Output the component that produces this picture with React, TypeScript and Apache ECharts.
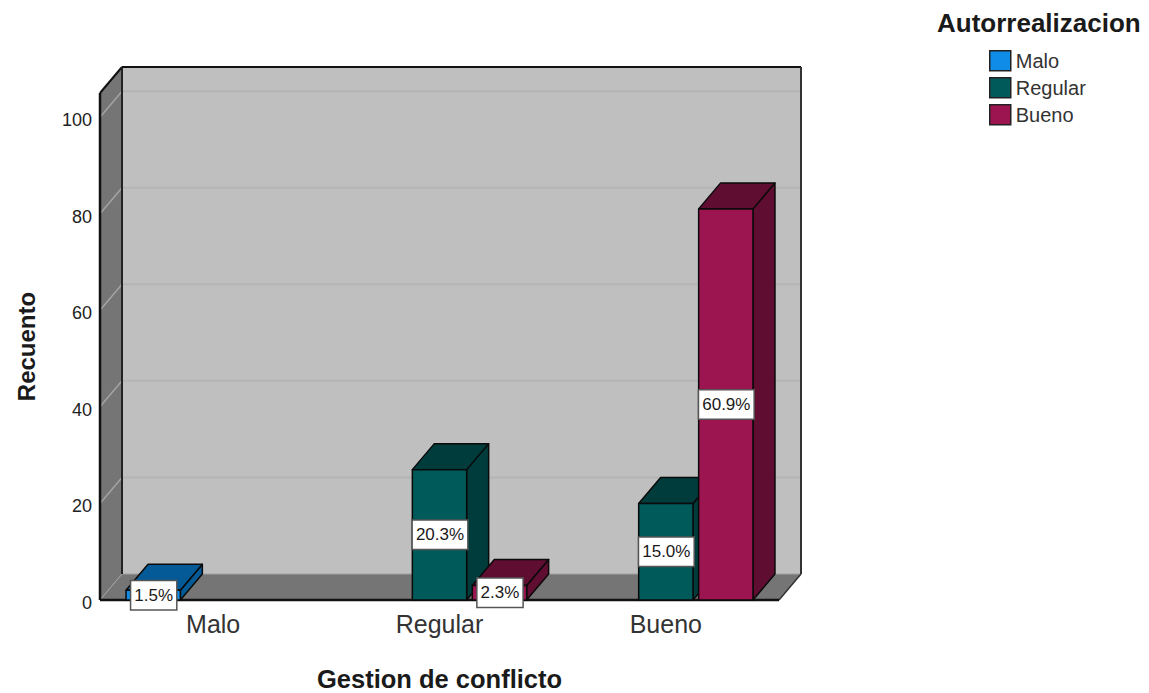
import React, { useEffect, useRef } from "react";
import * as echarts from "echarts";

const categories = ["Malo", "Regular", "Bueno"];
const seriesNames = ["Malo", "Regular", "Bueno"];
const maloValues = [2, null, null];
const regularValues = [null, 27, 20];
const buenoValues = [null, 3, 81];
const maloLabels = ["1.5%", "", ""];
const regularLabels = ["", "20.3%", "15.0%"];
const buenoLabels = ["", "2.3%", "60.9%"];
const yTicks = [0, 20, 40, 60, 80, 100];

const FONT = '"Liberation Sans", Arial, sans-serif';
const DX = 22;
const DY = -26;
const Y_MAX = 105;

const frontColors = ["#0f8ce8", "#005a5a", "#9d1550"];
const shadeColors = ["#045a96", "#003c3c", "#5f0d30"];

function renderWalls(params: any, api: any) {
  const cs = params.coordSys;
  const l = cs.x, r = cs.x + cs.width, t = cs.y, b = cs.y + cs.height;
  const wall = (pts: number[][], fill: string) => ({
    type: "polygon",
    shape: { points: pts },
    style: { fill, stroke: "none" },
  });
  const seg = (x1: number, y1: number, x2: number, y2: number, stroke: string, lineWidth: number) => ({
    type: "line",
    shape: { x1, y1, x2, y2 },
    style: { stroke, lineWidth },
  });
  const children: any[] = [
    wall([[l + DX, t + DY], [r + DX, t + DY], [r + DX, b + DY], [l + DX, b + DY]], "#bfbfbf"),
    wall([[l, t], [l + DX, t + DY], [l + DX, b + DY], [l, b]], "#757575"),
    wall([[l, b], [l + DX, b + DY], [r + DX, b + DY], [r, b]], "#757575"),
  ];
  yTicks.forEach((v) => {
    const y = api.coord([0, v])[1];
    if (v > 0) {
      children.push(seg(l + DX, y + DY, r + DX, y + DY, "#b4b4b4", 2));
      children.push(seg(l, y, l + DX, y + DY, "#a4a4a4", 1.5));
    }
  });
  children.push(seg(l, b, l + DX, b + DY, "#a4a4a4", 1));
  children.push(seg(l + DX, b + DY, r + DX, b + DY, "#a0a0a0", 1));
  children.push(seg(l, t, l, b, "#111", 2.5));
  children.push(seg(l, t, l + DX, t + DY, "#111", 2));
  children.push(seg(l + DX, t + DY, l + DX, b + DY, "#222", 2));
  children.push(seg(l + DX, t + DY, r + DX, t + DY, "#111", 2));
  children.push(seg(r + DX, t + DY, r + DX, b + DY, "#333", 2));
  children.push(seg(r + DX, b + DY, r, b, "#333", 1.5));
  children.push(seg(l, b, r, b, "#111", 2.5));
  return { type: "group", children };
}

function makeBarRenderer(seriesIndex: number, labels: string[]) {
  return (params: any, api: any) => {
    const v = api.value(1);
    if (v == null || Number.isNaN(v)) return null;
    const idx = api.value(0);
    const band = api.size([1, 0])[0];
    const w = band * 0.24;
    const c = api.coord([idx, 0]);
    const top = api.coord([idx, v])[1];
    const cx = c[0] + (seriesIndex - 1) * band * 0.265;
    const x0 = cx - w / 2, x1 = cx + w / 2, y0 = c[1];
    const edge = { stroke: "#0a0a0a", lineWidth: 1.5, lineJoin: "round" };
    const poly = (pts: number[][], fill: string) => ({
      type: "polygon",
      shape: { points: pts },
      style: { fill, ...edge },
    });
    return {
      type: "group",
      children: [
        poly([[x1, y0], [x1 + DX, y0 + DY], [x1 + DX, top + DY], [x1, top]], shadeColors[seriesIndex]),
        poly([[x0, top], [x0 + DX, top + DY], [x1 + DX, top + DY], [x1, top]], shadeColors[seriesIndex]),
        poly([[x0, y0], [x0, top], [x1, top], [x1, y0]], frontColors[seriesIndex]),
        {
          type: "text",
          x: cx + 0.5,
          y: (y0 + top) / 2,
          style: {
            text: labels[params.dataIndex],
            font: `17px ${FONT}`,
            fill: "#1a1a1a",
            align: "center",
            verticalAlign: "middle",
            backgroundColor: "#ffffff",
            borderColor: "#555",
            borderWidth: 1.5,
            padding: [6, 3, 5, 3],
          },
        },
      ],
    };
  };
}

const barSeries = (i: number, values: (number | null)[], labels: string[]) => ({
  name: seriesNames[i],
  type: "custom",
  coordinateSystem: "cartesian2d",
  renderItem: makeBarRenderer(i, labels),
  encode: { x: 0, y: 1 },
  itemStyle: { color: frontColors[i] },
  data: values.map((v, k) => [k, v]),
  z: 3 + i,
});

export default function App() {
  const ref = useRef<HTMLDivElement>(null);
  useEffect(() => {
    document.body.style.margin = "0";
    const chart = echarts.init(ref.current!, null, { renderer: "svg" });
    chart.setOption({
      animation: false,
      backgroundColor: "#ffffff",
      textStyle: { fontFamily: FONT },
      title: {
        text: "Autorrealizacion",
        left: 932,
        top: 5,
        textStyle: { fontFamily: FONT, fontSize: 26, fontWeight: "bold", color: "#1a1a1a" },
      },
      legend: {
        orient: "vertical",
        left: 984,
        top: 45,
        icon: "rect",
        itemWidth: 21,
        itemHeight: 20,
        itemGap: 5.5,
        itemStyle: { borderColor: "#222", borderWidth: 1.5 },
        data: seriesNames,
        textStyle: { fontFamily: FONT, fontSize: 20, color: "#333", lineHeight: 20 },
      },
      grid: { left: 100, top: 93, width: 679, height: 507, containLabel: false, outerBoundsMode: "none" },
      xAxis: {
        type: "category",
        data: categories,
        name: "Gestion de conflicto",
        nameLocation: "middle",
        nameGap: 66,
        nameTextStyle: { fontFamily: FONT, fontSize: 25.5, fontWeight: "bold", color: "#1a1a1a" },
        axisLine: { show: false },
        axisTick: { show: false },
        axisLabel: { fontFamily: FONT, fontSize: 25, color: "#333", margin: 11 },
      },
      yAxis: {
        type: "value",
        min: 0,
        max: Y_MAX,
        interval: 20,
        name: "Recuento",
        nameLocation: "middle",
        nameGap: 62,
        nameRotate: 90,
        nameTextStyle: { fontFamily: FONT, fontSize: 24, fontWeight: "bold", color: "#1a1a1a" },
        axisLine: { show: false },
        axisTick: { show: false },
        splitLine: { show: false },
        axisLabel: {
          fontFamily: FONT,
          fontSize: 18,
          color: "#222",
          margin: 8,
          showMaxLabel: false,
          formatter: "{v|{value}}",
          rich: { v: { fontFamily: FONT, fontSize: 18, color: "#222", padding: [6, 0, 0, 0] } },
        },
      },
      series: [
        {
          type: "custom",
          coordinateSystem: "cartesian2d",
          renderItem: renderWalls,
          encode: { x: 0, y: 1 },
          data: [[0, 0]],
          silent: true,
          z: 1,
        },
        barSeries(0, maloValues, maloLabels),
        barSeries(1, regularValues, regularLabels),
        barSeries(2, buenoValues, buenoLabels),
      ],
    });
    return () => chart.dispose();
  }, []);
  return <div ref={ref} style={{ width: 1149, height: 693 }} />;
}
